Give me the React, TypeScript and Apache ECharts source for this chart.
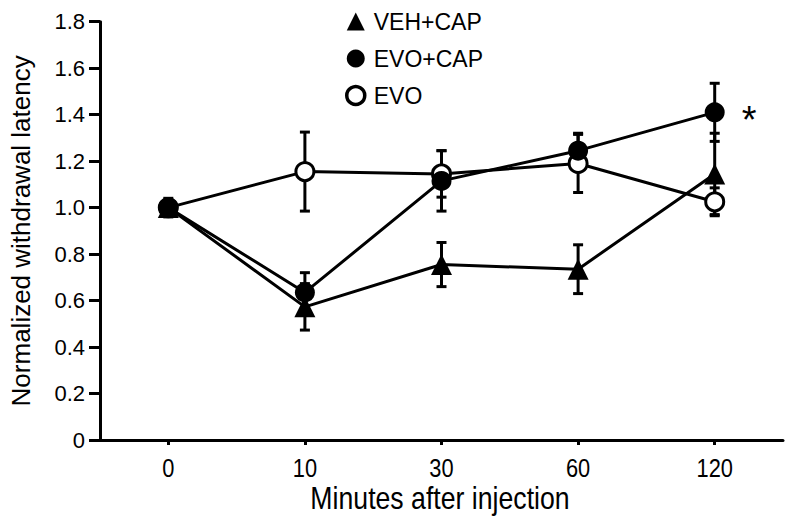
import React, { useEffect, useRef } from "react";
import * as echarts from "echarts";

const categories = ["0", "10", "30", "60", "120"];
const seriesNames = ["VEH+CAP", "EVO+CAP", "EVO"];
const vehCap = [1.0, 0.573, 0.755, 0.735, 1.145];
const vehCapErr = [0.04, 0.1, 0.095, 0.105, 0.175];
const evoCap = [1.0, 0.635, 1.115, 1.245, 1.41];
const evoCapErr = [0.02, 0.085, 0.13, 0.075, 0.125];
const evo = [1.0, 1.155, 1.145, 1.19, 1.025];
const evoErr = [0.02, 0.17, 0.1, 0.125, 0.06];
const significance = ["", "", "", "", "*"];
const xTitle = "Minutes after injection";
const yTitle = "Normalized withdrawal latency";

const FONT = "'Liberation Sans', Arial, sans-serif";
const idx = categories.map((_, i) => i);

function errorSeries(name: string, vals: number[], errs: number[], z: number) {
  return {
    type: "custom",
    name: name + "-err",
    z,
    silent: true,
    data: vals.map((v, i) => [i, v, errs[i]]),
    encode: { x: 0, y: 1 },
    renderItem: (params: any, api: any) => {
      const i = api.value(0);
      const v = api.value(1);
      const e = api.value(2);
      const hi = api.coord([i, v + e]);
      const lo = api.coord([i, v - e]);
      const w = 5;
      const st = { stroke: "#000", lineWidth: 3 };
      return {
        type: "group",
        children: [
          { type: "line", shape: { x1: hi[0], y1: hi[1], x2: lo[0], y2: lo[1] }, style: st },
          { type: "line", shape: { x1: hi[0] - w, y1: hi[1], x2: hi[0] + w, y2: hi[1] }, style: st },
          { type: "line", shape: { x1: lo[0] - w, y1: lo[1], x2: lo[0] + w, y2: lo[1] }, style: st },
        ],
      };
    },
  };
}

export default function App() {
  const ref = useRef<HTMLDivElement>(null);
  useEffect(() => {
    if (!ref.current) return;
    const chart = echarts.init(ref.current, null, { renderer: "svg" });
    chart.setOption({
      animation: false,
      backgroundColor: "#fff",
      grid: { left: 94, right: 3, top: 21.7, bottom: 79, containLabel: false },
      legend: {
        orient: "vertical",
        left: 340,
        top: 5,
        itemWidth: 18,
        itemHeight: 18,
        itemGap: 14,
        textStyle: { fontFamily: FONT, fontSize: 23, color: "#000", padding: [0, 0, 0, 4] },
        data: [
          { name: seriesNames[0], icon: "triangle", itemStyle: { color: "#000", borderWidth: 0 } },
          { name: seriesNames[1], icon: "circle", itemStyle: { color: "#000", borderWidth: 0 } },
          { name: seriesNames[2], icon: "circle", itemStyle: { color: "#fff", borderColor: "#000", borderWidth: 3.5 } },
        ],
        selectedMode: false,
      },
      graphic: [
        {
          type: "text",
          x: 440,
          y: 498,
          scaleX: 0.86,
          style: {
            text: xTitle,
            textAlign: "center",
            textVerticalAlign: "middle",
            fontFamily: FONT,
            fontSize: 31,
            fill: "#000",
          },
        },
      ],
      xAxis: {
        type: "value",
        min: -0.5,
        max: 4.5,
        axisLine: { onZero: false, lineStyle: { color: "#000", width: 3 } },
        axisTick: { customValues: idx, length: 5, lineStyle: { color: "#000", width: 3 } },
        axisLabel: { show: false },
        splitLine: { show: false },
      },
      yAxis: {
        type: "value",
        min: 0,
        max: 1.8,
        interval: 0.2,
        name: yTitle,
        nameLocation: "middle",
        nameGap: 66,
        nameTextStyle: { fontFamily: FONT, fontSize: 26, color: "#000" },
        axisLine: { show: true, onZero: false, lineStyle: { color: "#000", width: 3 } },
        axisTick: { show: true, length: 11, lineStyle: { color: "#000", width: 3 } },
        axisLabel: {
          fontFamily: FONT,
          fontSize: 22,
          color: "#000",
          margin: 15,
          formatter: (v: number) => (v === 0 ? "0" : v.toFixed(1)),
        },
        splitLine: { show: false },
      },
      series: [
        {
          type: "custom",
          name: "xlabels",
          silent: true,
          data: categories.map((c, i) => [i, 0]),
          encode: { x: 0, y: 1 },
          clip: false,
          renderItem: (params: any, api: any) => {
            const p = api.coord([api.value(0), 0]);
            return {
              type: "text",
              x: p[0],
              y: p[1] + 28,
              scaleX: 0.84,
              style: {
                text: categories[params.dataIndex],
                textAlign: "center",
                textVerticalAlign: "middle",
                fontFamily: FONT,
                fontSize: 26,
                fill: "#000",
              },
            };
          },
        },
        errorSeries(seriesNames[2], evo, evoErr, 1),
        errorSeries(seriesNames[0], vehCap, vehCapErr, 1),
        errorSeries(seriesNames[1], evoCap, evoCapErr, 1),
        {
          type: "line",
          name: seriesNames[2],
          z: 2,
          data: evo.map((v, i) => [i, v]),
          symbol: "circle",
          symbolSize: 18,
          lineStyle: { color: "#000", width: 3 },
          itemStyle: { color: "#fff", borderColor: "#000", borderWidth: 3 },
        },
        {
          type: "line",
          name: seriesNames[0],
          z: 3,
          data: vehCap.map((v, i) => [i, v]),
          symbol: "triangle",
          symbolSize: 21,
          lineStyle: { color: "#000", width: 3 },
          itemStyle: { color: "#000", borderWidth: 0 },
        },
        {
          type: "line",
          name: seriesNames[1],
          z: 4,
          data: evoCap.map((v, i) => ({
            value: [i, v],
            label: {
              show: significance[i] !== "",
              formatter: significance[i],
              position: "right",
              distance: 17,
              fontFamily: FONT,
              fontSize: 38,
              color: "#000",
              offset: [0, 8],
            },
          })),
          symbol: "circle",
          symbolSize: 20,
          lineStyle: { color: "#000", width: 3 },
          itemStyle: { color: "#000", borderWidth: 0 },
        },
      ],
    });
    return () => chart.dispose();
  }, []);
  return (
    <div
      ref={ref}
      style={{ position: "fixed", left: 0, top: 0, width: 786, height: 519, background: "#fff" }}
    />
  );
}
